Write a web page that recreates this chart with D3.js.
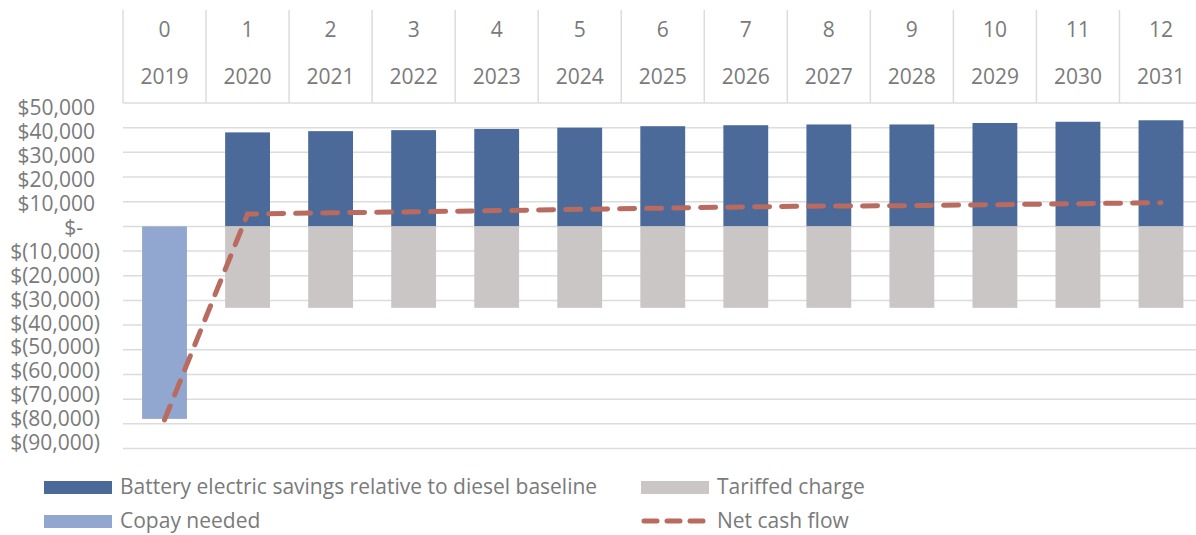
<!DOCTYPE html>
<html>
<head>
<meta charset="utf-8">
<script src="https://cdn.jsdelivr.net/npm/d3@7"></script>
<style>
  body { margin: 0; background: #fff; }
  svg { display: block; font-family: "Open Sans", sans-serif; }
  .lbl { fill: #7a7a7a; }
</style>
</head>
<body>
<script>
(function(){

// data
var periods = ["0", "1", "2", "3", "4", "5", "6", "7", "8", "9", "10", "11", "12"];
var years = ["2019", "2020", "2021", "2022", "2023", "2024", "2025", "2026", "2027", "2028", "2029", "2030", "2031"];
var savings = [0, 38100, 38600, 39000, 39500, 40000, 40600, 41000, 41300, 41300, 41900, 42400, 43000];
var tariff = [0, -33000, -33000, -33000, -33000, -33000, -33000, -33000, -33000, -33000, -33000, -33000, -33000];
var copay = [-78000, 0, 0, 0, 0, 0, 0, 0, 0, 0, 0, 0, 0];
var netCash = [-78400, 5000, 5500, 5900, 6400, 6900, 7400, 7900, 8250, 8400, 8800, 9200, 9600];
var yTicks = [50000, 40000, 30000, 20000, 10000, 0, -10000, -20000, -30000, -40000, -50000, -60000, -70000, -80000, -90000];
var seriesNames = ["Battery electric savings relative to diesel baseline", "Tariffed charge", "Copay needed", "Net cash flow"];

// colours
var cSavings = "#4b6a9a",
    cTariff = "#cac6c5",
    cCopay = "#91a7d0",
    cNet = "#b86b5e",
    cGrid = "#dcdcdc";

var width = 1196, height = 535;
var plotLeft = 123, plotRight = 1202.5;
var fontSize = "21px";

var svg = d3.select("body").append("svg")
    .attr("width", width)
    .attr("height", height);

// scales
var xCol = d3.scaleBand().domain(years).range([plotLeft, plotRight]).padding(0);
var xBar = d3.scaleBand().domain(years).range([plotLeft, plotRight])
    .paddingInner(0.46).paddingOuter(0.23);
var yScale = d3.scaleLinear().domain([-90000, 50000]).range([448.5, 103]);
// excel squeezes the tick labels a little compared with the gridlines
var yLabel = d3.scaleLinear().domain([-90000, 50000]).range([443, 107.5]);

// horizontal gridlines
svg.append("g").selectAll("line")
    .data(yTicks)
    .enter().append("line")
    .attr("x1", plotLeft).attr("x2", width)
    .attr("y1", function(d){ return yScale(d); })
    .attr("y2", function(d){ return yScale(d); })
    .attr("stroke", cGrid)
    .attr("stroke-width", 1.5);

// header grid (vertical separators)
svg.append("g").selectAll("line")
    .data(years)
    .enter().append("line")
    .attr("x1", function(d){ return xCol(d); })
    .attr("x2", function(d){ return xCol(d); })
    .attr("y1", 10).attr("y2", yScale(50000))
    .attr("stroke", cGrid)
    .attr("stroke-width", 1.5);

// header labels
var head = svg.append("g").attr("class", "lbl").style("font-size", fontSize).attr("text-anchor", "middle");
head.selectAll(".per")
    .data(periods)
    .enter().append("text")
    .attr("class", "per")
    .attr("x", function(d, i){ return xCol(years[i]) + xCol.bandwidth() / 2; })
    .attr("y", 30)
    .attr("dy", "0.35em")
    .text(function(d){ return d; });
head.selectAll(".yr")
    .data(years)
    .enter().append("text")
    .attr("class", "yr")
    .attr("x", function(d){ return xCol(d) + xCol.bandwidth() / 2; })
    .attr("y", 77)
    .attr("dy", "0.35em")
    .text(function(d){ return d; });

// y labels, accounting format
var fmt = d3.format(",");
function acct(v){
    if (v === 0) return "$-";
    if (v < 0) return "$(" + fmt(-v) + ")";
    return "$" + fmt(v);
}
svg.append("g").attr("class", "lbl").style("font-size", fontSize).attr("text-anchor", "end")
    .selectAll("text")
    .data(yTicks)
    .enter().append("text")
    .attr("x", function(d){ return d < 0 ? 100 : (d === 0 ? 83 : 95); })
    .attr("y", function(d){ return yLabel(d); })
    .attr("dy", "0.35em")
    .text(acct);

// bars
function bars(vals, color){
    svg.append("g").selectAll("rect")
        .data(vals.map(function(v, i){ return {year: years[i], v: v}; }).filter(function(d){ return d.v !== 0; }))
        .enter().append("rect")
        .attr("x", function(d){ return xBar(d.year); })
        .attr("width", xBar.bandwidth())
        .attr("y", function(d){ return yScale(Math.max(0, d.v)); })
        .attr("height", function(d){ return Math.abs(yScale(d.v) - yScale(0)); })
        .attr("fill", color);
}
bars(savings, cSavings);
bars(tariff, cTariff);
bars(copay, cCopay);

// net cash flow line
var line = d3.line()
    .x(function(d, i){ return xCol(years[i]) + xCol.bandwidth() / 2; })
    .y(function(d){ return yScale(d); });
svg.append("path")
    .datum(netCash)
    .attr("d", line)
    .attr("fill", "none")
    .attr("stroke", cNet)
    .attr("stroke-width", 5)
    .attr("stroke-dasharray", "15,12")
    .attr("stroke-linecap", "round");

// legend
var legend = svg.append("g").attr("class", "lbl").style("font-size", fontSize);
var legItems = [
    {name: seriesNames[0], color: cSavings, x: 44, y: 487, type: "rect"},
    {name: seriesNames[1], color: cTariff, x: 641, y: 487, type: "rect"},
    {name: seriesNames[2], color: cCopay, x: 44, y: 521, type: "rect"},
    {name: seriesNames[3], color: cNet, x: 641, y: 521, type: "line"}
];
legItems.forEach(function(d){
    if (d.type === "rect"){
        legend.append("rect")
            .attr("x", d.x).attr("y", d.y - 6)
            .attr("width", 68).attr("height", 13)
            .attr("fill", d.color);
    } else {
        legend.append("line")
            .attr("x1", d.x + 3).attr("x2", d.x + 66)
            .attr("y1", d.y).attr("y2", d.y)
            .attr("stroke", d.color)
            .attr("stroke-width", 5)
            .attr("stroke-dasharray", "13,10")
            .attr("stroke-linecap", "round");
    }
    legend.append("text")
        .attr("x", d.x + 76)
        .attr("y", d.y)
        .attr("dy", "0.35em")
        .text(d.name);
});

})();
</script>
</body>
</html>
